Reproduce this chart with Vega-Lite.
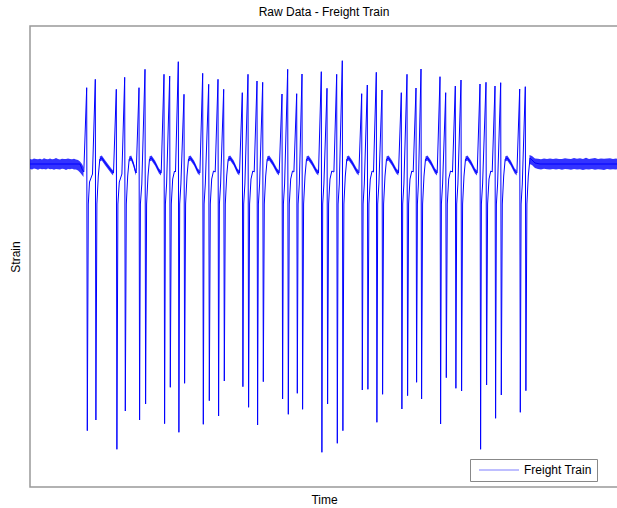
{
  "$schema": "https://vega.github.io/schema/vega-lite/v6.json",
  "width": 588,
  "height": 461,
  "autosize": {"type": "none"},
  "padding": {"left": 30, "top": 26, "right": 0, "bottom": 21},
  "background": "white",
  "title": {"text": "Raw Data - Freight Train", "font": "Liberation Sans", "fontSize": 12, "fontWeight": "normal", "color": "black", "offset": 7, "anchor": "middle"},
  "config": {
    "view": {"stroke": "#999999", "strokeWidth": 1.5},
    "axis": {"domain": false, "ticks": false, "labels": false, "grid": false, "titleFont": "Liberation Sans", "titleFontSize": 12, "titleFontWeight": "normal", "titleColor": "black"}
  },
  "datasets": {
    "sig": [
      {"t":0,"s":0},{"t":50,"s":0},{"t":52,"s":-5},{"t":53.8,"s":-8},
      {"t":56.7,"s":76.3},{"t":57.3,"s":-266.7},{"t":58.3,"s":-40},{"t":59.5,"s":-18},{"t":62.5,"s":-10},
      {"t":65.3,"s":84.7},{"t":65.9,"s":-256},{"t":66.9,"s":-40},{"t":68.3,"s":-12},{"t":69.8,"s":5},{"t":71.8,"s":6},{"t":75.3,"s":1},{"t":81.3,"s":-7},{"t":83.5,"s":-9},
      {"t":86.3,"s":74.7},{"t":86.9,"s":-285.3},{"t":87.9,"s":-40},{"t":89.3,"s":-18},{"t":91.9,"s":-10},
      {"t":94.7,"s":86.7},{"t":95.3,"s":-247},{"t":96.3,"s":-40},{"t":97.7,"s":-12},{"t":99.2,"s":5},{"t":101.2,"s":6},{"t":103.5,"s":0},{"t":105,"s":-6},{"t":106.2,"s":-9},
      {"t":109,"s":76.3},{"t":109.6,"s":-256},{"t":110.4,"s":-40},{"t":111.8,"s":-20},
      {"t":115,"s":94.7},{"t":115.6,"s":-240},{"t":116.6,"s":-40},{"t":118,"s":-12},{"t":119.5,"s":5},{"t":121.5,"s":6},{"t":125,"s":1},{"t":129,"s":-7},{"t":131.2,"s":-9},
      {"t":134,"s":89.7},{"t":134.6,"s":-259.7},{"t":135.4,"s":-40},{"t":136.6,"s":-20},
      {"t":139.7,"s":88},{"t":140.3,"s":-223.3},{"t":141.3,"s":-40},{"t":142.7,"s":-15},{"t":144.5,"s":-7},{"t":145.5,"s":-8},
      {"t":148.3,"s":102.3},{"t":148.9,"s":-268.3},{"t":149.7,"s":-40},{"t":150.9,"s":-20},
      {"t":154,"s":69.7},{"t":154.6,"s":-219.3},{"t":155.6,"s":-40},{"t":157,"s":-12},{"t":158.5,"s":5},{"t":160.5,"s":6},{"t":164,"s":1},{"t":167.7,"s":-7},{"t":169.9,"s":-9},
      {"t":172.7,"s":90.7},{"t":173.3,"s":-260.3},{"t":174.1,"s":-40},{"t":175.3,"s":-20},
      {"t":178.7,"s":79.7},{"t":179.3,"s":-236.7},{"t":180.3,"s":-40},{"t":181.7,"s":-15},{"t":183.5,"s":-7},{"t":185.2,"s":-8},
      {"t":188,"s":84.7},{"t":188.6,"s":-252},{"t":189.4,"s":-40},{"t":190.6,"s":-20},
      {"t":193.7,"s":74.7},{"t":194.3,"s":-217},{"t":195.3,"s":-40},{"t":196.7,"s":-12},{"t":198.2,"s":5},{"t":200.2,"s":6},{"t":203.7,"s":1},{"t":207.3,"s":-7},{"t":209.5,"s":-9},
      {"t":212.3,"s":71.3},{"t":212.9,"s":-222.7},{"t":213.7,"s":-40},{"t":214.9,"s":-20},
      {"t":218,"s":89.7},{"t":218.6,"s":-243.3},{"t":219.6,"s":-40},{"t":221,"s":-15},{"t":222.8,"s":-7},{"t":224.2,"s":-8},
      {"t":227,"s":83},{"t":227.6,"s":-261},{"t":228.4,"s":-40},{"t":229.6,"s":-20},
      {"t":232.7,"s":81.7},{"t":233.3,"s":-217.7},{"t":234.3,"s":-40},{"t":235.7,"s":-12},{"t":237.2,"s":5},{"t":239.2,"s":6},{"t":242.7,"s":1},{"t":247,"s":-7},{"t":249.2,"s":-9},
      {"t":252,"s":70},{"t":252.6,"s":-235},{"t":253.4,"s":-40},{"t":254.6,"s":-20},
      {"t":257.7,"s":94.7},{"t":258.3,"s":-250.3},{"t":259.3,"s":-40},{"t":260.7,"s":-15},{"t":262.5,"s":-7},{"t":263.9,"s":-8},
      {"t":266.7,"s":70.3},{"t":267.3,"s":-229.3},{"t":268.1,"s":-40},{"t":269.3,"s":-20},
      {"t":272,"s":90},{"t":272.6,"s":-245.3},{"t":273.6,"s":-40},{"t":275,"s":-12},{"t":276.5,"s":5},{"t":278.5,"s":6},{"t":282,"s":1},{"t":286.3,"s":-7},{"t":288.5,"s":-9},
      {"t":291.3,"s":92.3},{"t":291.9,"s":-288.3},{"t":292.7,"s":-40},{"t":293.9,"s":-20},
      {"t":297,"s":75.7},{"t":297.6,"s":-240},{"t":298.6,"s":-40},{"t":300,"s":-15},{"t":301.8,"s":-7},{"t":303.9,"s":-8},
      {"t":306.7,"s":89.7},{"t":307.3,"s":-279.3},{"t":308.1,"s":-40},{"t":309.3,"s":-20},
      {"t":312.3,"s":103.3},{"t":312.9,"s":-266.7},{"t":313.9,"s":-40},{"t":315.3,"s":-12},{"t":316.8,"s":5},{"t":318.8,"s":6},{"t":322.3,"s":1},{"t":326.7,"s":-7},{"t":328.9,"s":-9},
      {"t":331.7,"s":70.3},{"t":332.3,"s":-226},{"t":333.1,"s":-40},{"t":334.3,"s":-20},
      {"t":337.3,"s":79},{"t":337.9,"s":-225.3},{"t":338.9,"s":-40},{"t":340.3,"s":-15},{"t":342.1,"s":-7},{"t":343.5,"s":-8},
      {"t":346.3,"s":91.7},{"t":346.9,"s":-258.3},{"t":347.7,"s":-40},{"t":348.9,"s":-20},
      {"t":352,"s":74},{"t":352.6,"s":-230.3},{"t":353.6,"s":-40},{"t":355,"s":-12},{"t":356.5,"s":5},{"t":358.5,"s":6},{"t":362,"s":1},{"t":366.3,"s":-7},{"t":368.5,"s":-9},
      {"t":371.3,"s":71.3},{"t":371.9,"s":-245},{"t":372.7,"s":-40},{"t":373.9,"s":-20},
      {"t":377,"s":89.7},{"t":377.6,"s":-231.7},{"t":378.6,"s":-40},{"t":380,"s":-15},{"t":381.8,"s":-7},{"t":383.2,"s":-8},
      {"t":386,"s":76},{"t":386.6,"s":-218.3},{"t":387.4,"s":-40},{"t":388.4,"s":-20},
      {"t":391,"s":95},{"t":391.6,"s":-235},{"t":392.6,"s":-40},{"t":394,"s":-12},{"t":395.5,"s":5},{"t":397.5,"s":6},{"t":401,"s":1},{"t":405,"s":-7},{"t":407.2,"s":-9},
      {"t":410,"s":87.3},{"t":410.6,"s":-260},{"t":411.4,"s":-40},{"t":412.6,"s":-20},
      {"t":415.7,"s":71.3},{"t":416.3,"s":-213.7},{"t":417.3,"s":-40},{"t":418.7,"s":-15},{"t":420.5,"s":-7},{"t":422.5,"s":-8},
      {"t":425.3,"s":78},{"t":425.9,"s":-224.3},{"t":426.7,"s":-40},{"t":427.9,"s":-20},
      {"t":431,"s":84},{"t":431.6,"s":-227},{"t":432.6,"s":-40},{"t":434,"s":-12},{"t":435.5,"s":5},{"t":437.5,"s":6},{"t":441,"s":1},{"t":445,"s":-7},{"t":447.2,"s":-9},
      {"t":450,"s":80},{"t":450.6,"s":-285.3},{"t":451.4,"s":-40},{"t":452.6,"s":-20},
      {"t":456,"s":81.7},{"t":456.6,"s":-221},{"t":457.6,"s":-40},{"t":459,"s":-15},{"t":460.8,"s":-7},{"t":462.2,"s":-8},
      {"t":465,"s":78},{"t":465.6,"s":-254.3},{"t":466.4,"s":-40},{"t":467.6,"s":-20},
      {"t":470.7,"s":81.3},{"t":471.3,"s":-231},{"t":472.3,"s":-40},{"t":473.7,"s":-12},{"t":475.2,"s":5},{"t":477.2,"s":6},{"t":480.7,"s":1},{"t":484.7,"s":-7},{"t":486.9,"s":-9},
      {"t":489.7,"s":75},{"t":490.3,"s":-248.3},{"t":491.1,"s":-40},{"t":492.3,"s":-20},
      {"t":495.3,"s":77.3},{"t":495.9,"s":-226.7},{"t":496.9,"s":-40},{"t":498.3,"s":-12},{"t":500,"s":6},{"t":502,"s":4},{"t":505,"s":1},{"t":510,"s":0},{"t":588,"s":0}
    ],
    "band": [
      {"seg":"L","t":0,"lo":-5,"hi":5},{"seg":"L","t":2,"lo":-5.5,"hi":4.5},{"seg":"L","t":4,"lo":-4.5,"hi":5.5},{"seg":"L","t":6,"lo":-5,"hi":5},{"seg":"L","t":8,"lo":-5.8,"hi":4.8},{"seg":"L","t":10,"lo":-4.8,"hi":5.2},{"seg":"L","t":12,"lo":-5.2,"hi":4.6},{"seg":"L","t":14,"lo":-5,"hi":5.8},{"seg":"L","t":16,"lo":-5.6,"hi":5},{"seg":"L","t":18,"lo":-4.6,"hi":4.8},{"seg":"L","t":20,"lo":-5.3,"hi":5.4},{"seg":"L","t":22,"lo":-5,"hi":4.7},{"seg":"L","t":24,"lo":-5.7,"hi":5.1},{"seg":"L","t":26,"lo":-4.9,"hi":5.9},{"seg":"L","t":28,"lo":-5.2,"hi":5},{"seg":"L","t":30,"lo":-5.5,"hi":4.6},{"seg":"L","t":32,"lo":-4.8,"hi":5.3},{"seg":"L","t":34,"lo":-5.1,"hi":5},{"seg":"L","t":36,"lo":-5.9,"hi":4.9},{"seg":"L","t":38,"lo":-5,"hi":5.6},{"seg":"L","t":40,"lo":-5.3,"hi":5},{"seg":"L","t":42,"lo":-4.7,"hi":4.8},{"seg":"L","t":44,"lo":-5.4,"hi":5.2},{"seg":"L","t":46,"lo":-5.6,"hi":4.5},{"seg":"L","t":48,"lo":-6.5,"hi":4},{"seg":"L","t":50,"lo":-8.5,"hi":2.5},{"seg":"L","t":52,"lo":-11,"hi":0},{"seg":"L","t":53.5,"lo":-13,"hi":-3},
      {"seg":"W1","t":69.8,"lo":2.5,"hi":7.5},{"seg":"W1","t":71.8,"lo":3.5,"hi":8.5},{"seg":"W1","t":75.3,"lo":-1.5,"hi":3.5},{"seg":"W1","t":81.3,"lo":-9.5,"hi":-4.5},{"seg":"W1","t":83.1,"lo":-11.5,"hi":-6.5},
      {"seg":"W2","t":99.2,"lo":2.5,"hi":7.5},{"seg":"W2","t":101.2,"lo":3.5,"hi":8.5},{"seg":"W2","t":103.5,"lo":-2.5,"hi":2.5},{"seg":"W2","t":105,"lo":-8.5,"hi":-3.5},{"seg":"W2","t":106,"lo":-11.5,"hi":-6.5},
      {"seg":"W3","t":119.5,"lo":2.5,"hi":7.5},{"seg":"W3","t":121.5,"lo":3.5,"hi":8.5},{"seg":"W3","t":125,"lo":-1.5,"hi":3.5},{"seg":"W3","t":129,"lo":-9.5,"hi":-4.5},{"seg":"W3","t":131,"lo":-11.5,"hi":-6.5},
      {"seg":"W4","t":158.5,"lo":2.5,"hi":7.5},{"seg":"W4","t":160.5,"lo":3.5,"hi":8.5},{"seg":"W4","t":164,"lo":-1.5,"hi":3.5},{"seg":"W4","t":167.7,"lo":-9.5,"hi":-4.5},{"seg":"W4","t":169.7,"lo":-11.5,"hi":-6.5},
      {"seg":"W5","t":198.2,"lo":2.5,"hi":7.5},{"seg":"W5","t":200.2,"lo":3.5,"hi":8.5},{"seg":"W5","t":203.7,"lo":-1.5,"hi":3.5},{"seg":"W5","t":207.3,"lo":-9.5,"hi":-4.5},{"seg":"W5","t":209.3,"lo":-11.5,"hi":-6.5},
      {"seg":"W6","t":237.2,"lo":2.5,"hi":7.5},{"seg":"W6","t":239.2,"lo":3.5,"hi":8.5},{"seg":"W6","t":242.7,"lo":-1.5,"hi":3.5},{"seg":"W6","t":247,"lo":-9.5,"hi":-4.5},{"seg":"W6","t":249,"lo":-11.5,"hi":-6.5},
      {"seg":"W7","t":276.5,"lo":2.5,"hi":7.5},{"seg":"W7","t":278.5,"lo":3.5,"hi":8.5},{"seg":"W7","t":282,"lo":-1.5,"hi":3.5},{"seg":"W7","t":286.3,"lo":-9.5,"hi":-4.5},{"seg":"W7","t":288.3,"lo":-11.5,"hi":-6.5},
      {"seg":"W8","t":316.8,"lo":2.5,"hi":7.5},{"seg":"W8","t":318.8,"lo":3.5,"hi":8.5},{"seg":"W8","t":322.3,"lo":-1.5,"hi":3.5},{"seg":"W8","t":326.7,"lo":-9.5,"hi":-4.5},{"seg":"W8","t":328.7,"lo":-11.5,"hi":-6.5},
      {"seg":"W9","t":356.5,"lo":2.5,"hi":7.5},{"seg":"W9","t":358.5,"lo":3.5,"hi":8.5},{"seg":"W9","t":362,"lo":-1.5,"hi":3.5},{"seg":"W9","t":366.3,"lo":-9.5,"hi":-4.5},{"seg":"W9","t":368.3,"lo":-11.5,"hi":-6.5},
      {"seg":"W10","t":395.5,"lo":2.5,"hi":7.5},{"seg":"W10","t":397.5,"lo":3.5,"hi":8.5},{"seg":"W10","t":401,"lo":-1.5,"hi":3.5},{"seg":"W10","t":405,"lo":-9.5,"hi":-4.5},{"seg":"W10","t":407,"lo":-11.5,"hi":-6.5},
      {"seg":"W11","t":435.5,"lo":2.5,"hi":7.5},{"seg":"W11","t":437.5,"lo":3.5,"hi":8.5},{"seg":"W11","t":441,"lo":-1.5,"hi":3.5},{"seg":"W11","t":445,"lo":-9.5,"hi":-4.5},{"seg":"W11","t":447,"lo":-11.5,"hi":-6.5},
      {"seg":"W12","t":475.2,"lo":2.5,"hi":7.5},{"seg":"W12","t":477.2,"lo":3.5,"hi":8.5},{"seg":"W12","t":480.7,"lo":-1.5,"hi":3.5},{"seg":"W12","t":484.7,"lo":-9.5,"hi":-4.5},{"seg":"W12","t":486.7,"lo":-11.5,"hi":-6.5},
      {"seg":"R","t":499.5,"lo":0,"hi":9},{"seg":"R","t":502,"lo":-1,"hi":8},{"seg":"R","t":505,"lo":-4,"hi":5.5},{"seg":"R","t":508,"lo":-5,"hi":5.2},{"seg":"R","t":511,"lo":-5.5,"hi":4.8},{"seg":"R","t":514,"lo":-4.8,"hi":5.5},{"seg":"R","t":517,"lo":-5.2,"hi":5},{"seg":"R","t":520,"lo":-5.6,"hi":5.4},{"seg":"R","t":523,"lo":-5,"hi":4.9},{"seg":"R","t":526,"lo":-5.4,"hi":5.6},{"seg":"R","t":529,"lo":-4.9,"hi":5.1},{"seg":"R","t":532,"lo":-5.7,"hi":5},{"seg":"R","t":535,"lo":-5.1,"hi":5.8},{"seg":"R","t":538,"lo":-5.3,"hi":5.2},{"seg":"R","t":541,"lo":-5.8,"hi":4.9},{"seg":"R","t":544,"lo":-5,"hi":6},{"seg":"R","t":547,"lo":-5.5,"hi":5.3},{"seg":"R","t":550,"lo":-5.2,"hi":5.7},{"seg":"R","t":553,"lo":-6,"hi":5},{"seg":"R","t":556,"lo":-5.3,"hi":6.3},{"seg":"R","t":559,"lo":-5.6,"hi":5.1},{"seg":"R","t":562,"lo":-5,"hi":5.5},{"seg":"R","t":565,"lo":-5.7,"hi":5.9},{"seg":"R","t":568,"lo":-5.2,"hi":5},{"seg":"R","t":571,"lo":-5.5,"hi":5.6},{"seg":"R","t":574,"lo":-5.9,"hi":5.2},{"seg":"R","t":577,"lo":-5.1,"hi":5.4},{"seg":"R","t":580,"lo":-5.6,"hi":5.8},{"seg":"R","t":583,"lo":-5.3,"hi":5.1},{"seg":"R","t":586,"lo":-5.5,"hi":5.5},{"seg":"R","t":588,"lo":-5.2,"hi":5.2}
    ]
  },
  "layer": [
    {
      "data": {"name": "band"},
      "mark": {"type": "area", "color": "#0000ff", "opacity": 0.8},
      "encoding": {
        "x": {"field": "t", "type": "quantitative", "scale": {"domain": [0, 588], "nice": false, "zero": false}, "axis": {"title": "Time", "titlePadding": 7}},
        "y": {"field": "lo", "type": "quantitative", "scale": {"domain": [-323, 138], "nice": false, "zero": false}, "axis": {"title": "Strain", "titlePadding": 8}},
        "y2": {"field": "hi"},
        "detail": {"field": "seg"}
      }
    },
    {
      "data": {"name": "sig"},
      "mark": {"type": "line", "strokeWidth": 1, "clip": true},
      "encoding": {
        "x": {"field": "t", "type": "quantitative"},
        "y": {"field": "s", "type": "quantitative"},
        "color": {
          "datum": "Freight Train",
          "scale": {"range": ["#0000ff"]},
          "legend": {"orient": "none", "legendX": 440, "legendY": 433, "title": null, "strokeColor": "#888888", "fillColor": "white", "padding": 5, "symbolType": "M-0.4,0H7.6", "symbolSize": 100, "symbolStrokeWidth": 1.2, "symbolOpacity": 0.5, "labelOffset": 37, "labelFont": "Liberation Sans", "labelFontSize": 12, "labelColor": "black", "cornerRadius": 0}
        }
      }
    }
  ]
}
